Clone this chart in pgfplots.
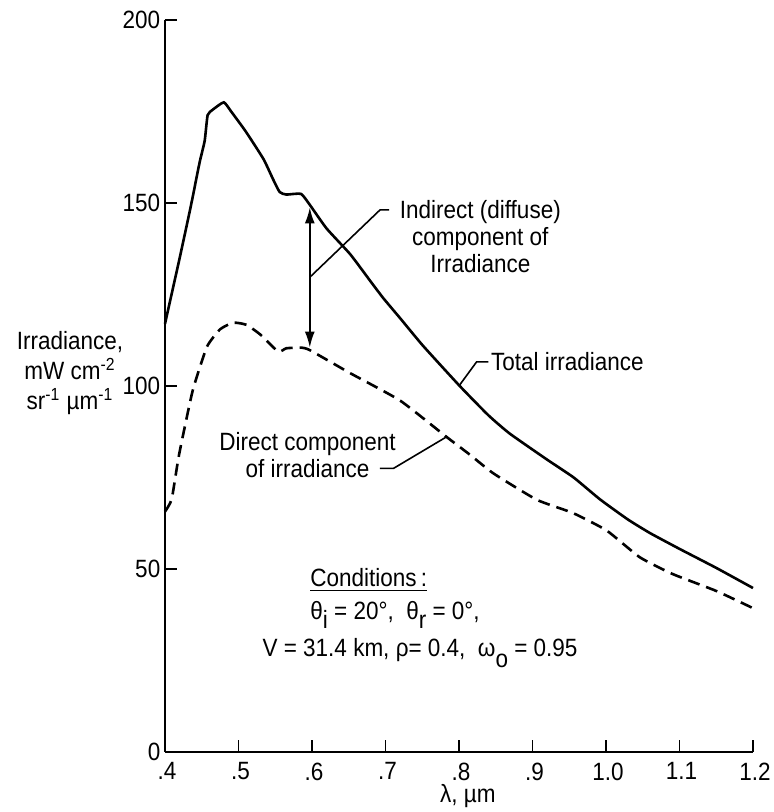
\documentclass[border=0pt]{standalone}
\usepackage{fontspec}
\setmainfont{Liberation Sans}[FakeStretch=0.9]
\usepackage{pgfplots}
\pgfplotsset{compat=1.18}
\usetikzlibrary{arrows.meta}
\begin{document}
\fontsize{12.5pt}{13.5pt}\selectfont
\begin{tikzpicture}
\useasboundingbox (-82.5pt,-30pt) rectangle (304pt,376pt);
\begin{axis}[
  at={(0,0)}, anchor=south west,
  scale only axis, width=294pt, height=366pt,
  xmin=0.4, xmax=1.2, ymin=0, ymax=200,
  axis x line=bottom, axis y line=left,
  axis line style={-, line width=1pt},
  xtick={0.4,0.5,0.6,0.7,0.8,0.9,1.0,1.1,1.2},
  xticklabels={.4,.5,.6,.7,.8,.9,1.0,1.1,1.2},
  ytick={0,50,100,150,200},
  yticklabels={0,50,100,150,200},
  tick align=inside, major tick length=6pt,
  tick style={line width=0.8pt, black},
  yticklabel style={xshift=2pt},
  xticklabel style={yshift=-1pt, xshift=1pt},
  clip=false,
]
\addplot[black, line width=1.3pt, smooth, tension=0.3] coordinates {
(0.400,117) (0.410,126) (0.420,135) (0.435,149) (0.447,161) (0.454,167)
(0.458,174) (0.465,175.5) (0.480,177.5) (0.490,175) (0.510,169.5) (0.534,162)
(0.547,156.5) (0.556,153) (0.565,152.3) (0.585,152.5) (0.597,149.5) (0.620,143)
(0.652,136) (0.680,128.5) (0.697,124) (0.720,118.5) (0.751,111) (0.801,100)
(0.840,92) (0.869,87) (0.919,80) (0.956,75) (0.992,69) (1.030,63.5)
(1.060,59.8) (1.100,55.5) (1.150,50.3) (1.200,44.8)
};
\addplot[black, line width=1.3pt, dash pattern=on 6pt off 3.5pt, smooth, tension=0.3] coordinates {
(0.400,65.7) (0.409,69) (0.418,80) (0.425,87) (0.438,99) (0.457,110.7)
(0.475,115.5) (0.493,117.3) (0.511,116.7) (0.530,114) (0.554,109.4) (0.565,110.3)
(0.585,110.5) (0.597,109.8) (0.652,103.5) (0.720,96) (0.783,86.1) (0.815,81.2)
(0.847,76.1) (0.906,68.9) (0.955,65.3) (1.001,60.5) (1.046,53.2) (1.091,48.6)
(1.150,44) (1.200,39.3)
};
% double arrow
\draw[{Latex[length=8pt,width=5pt]}-{Latex[length=8pt,width=5pt]}, line width=0.9pt]
  (axis cs:0.597,110.5) -- (axis cs:0.597,148.8);
% indirect label
\draw[line width=0.8pt] (axis cs:0.598,129.9) -- (axis cs:0.6925,148.1) -- (axis cs:0.705,148.1);
\node[align=center, inner sep=0] at (axis cs:0.829,140.7) {Indirect (diffuse)\\component of\\Irradiance};
% total label
\draw[line width=0.8pt] (axis cs:0.801,100.3) -- (axis cs:0.824,106.6) -- (axis cs:0.840,106.6);
\node[anchor=west, inner sep=0] at (axis cs:0.843,106.6) {Total irradiance};
% direct label
\draw[line width=0.8pt] (axis cs:0.783,86.1) -- (axis cs:0.711,77.5) -- (axis cs:0.6925,77.5);
\node[align=center, inner sep=0] at (axis cs:0.594,81.2) {Direct component\\of irradiance};
% conditions
\node[anchor=west, inner sep=0] at (axis cs:0.5973,47) {\underline{Conditions\,:}};
\node[anchor=west, inner sep=0] at (axis cs:0.5973,37.4) {θ\raisebox{-0.7ex}{i} = 20°,\ \ θ\raisebox{-0.7ex}{r} = 0°,};
\node[inner sep=0] at (axis cs:0.747,27) {V = 31.4 km, ρ= 0.4,\ \ ω\raisebox{-0.8ex}{o} = 0.95};
% axis labels
\node[align=center, inner sep=0] at ([xshift=-47.5pt]axis cs:0.4,103.5) {Irradiance,\\[1.5pt]mW cm\textsuperscript{-2}\\[1.5pt]sr\textsuperscript{-1} µm\textsuperscript{-1}};
\node[inner sep=0] at ([yshift=-22pt]axis cs:0.812,0) {λ, µm};
\end{axis}
\end{tikzpicture}
\end{document}
